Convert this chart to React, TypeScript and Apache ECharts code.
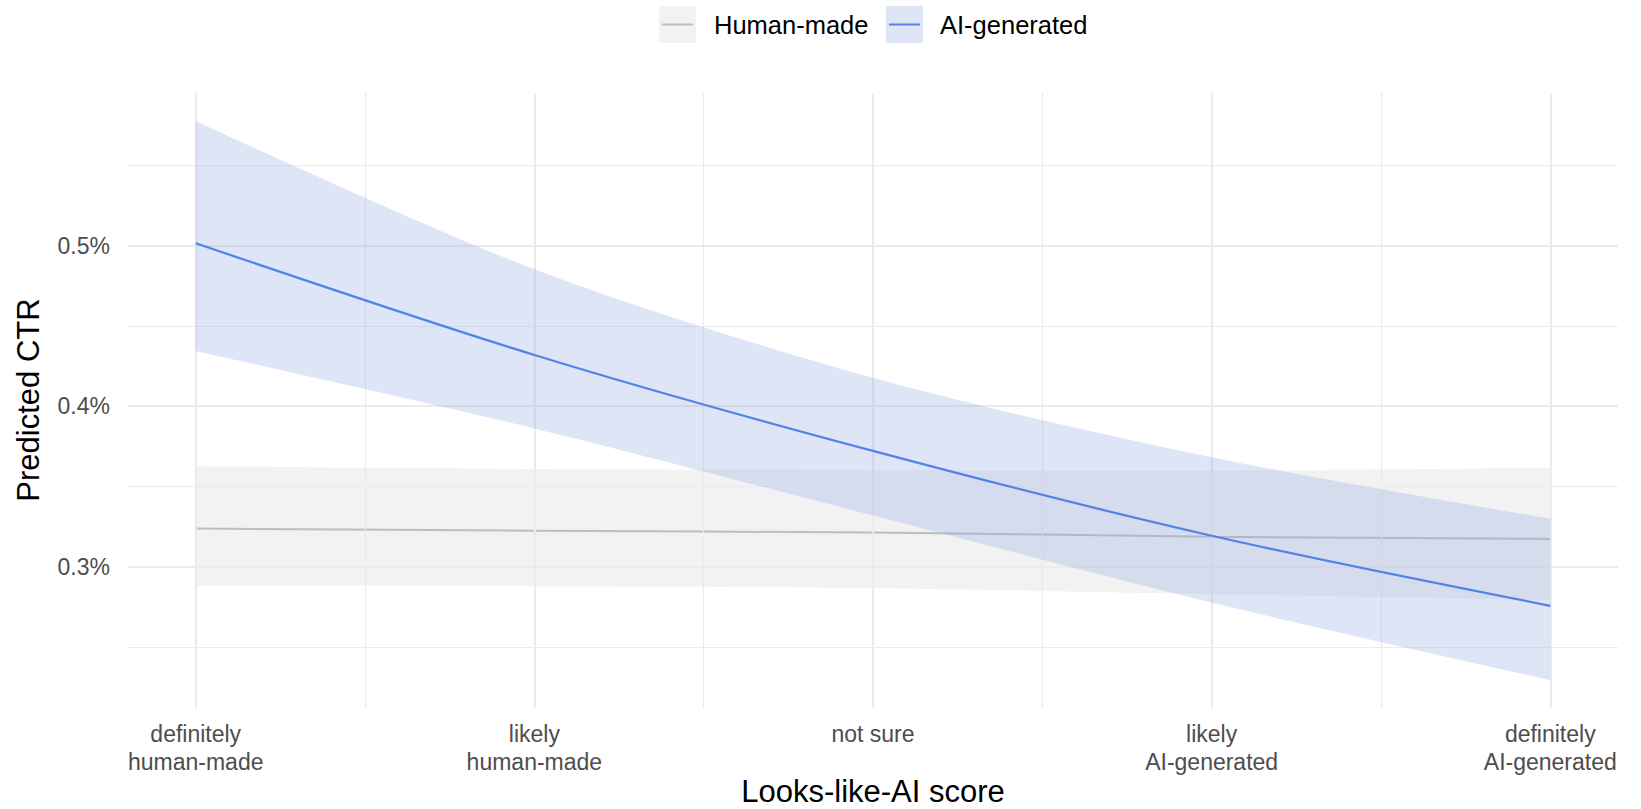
import React, { useEffect, useRef } from "react";
import * as echarts from "echarts";

// ---- data (values in percent) ----
const xLevels = [1, 2, 3, 4, 5];
const xTickLabels = [
  "definitely\nhuman-made",
  "likely\nhuman-made",
  "not sure",
  "likely\nAI-generated",
  "definitely\nAI-generated",
];
const yTickValues = [0.3, 0.4, 0.5];
const yMinorValues = [0.25, 0.35, 0.45, 0.55];
const xMinorValues = [1.5, 2.5, 3.5, 4.5];

const humanMean = [0.3239, 0.3225, 0.3214, 0.3188, 0.3174];
const humanLower = [0.2885, 0.288, 0.2867, 0.283, 0.2792];
const humanUpper = [0.3627, 0.361, 0.3602, 0.36, 0.3617];

const aiMean = [0.5014, 0.4319, 0.3722, 0.3194, 0.2758];
const aiLower = [0.4344, 0.3862, 0.332, 0.2778, 0.2296];
const aiUpper = [0.5775, 0.4852, 0.4177, 0.3682, 0.3299];

const legendNames = ["Human-made", "AI-generated"];

const FONT = "'Liberation Sans', Arial, sans-serif";
const GRID = "#EBEBEB";
const GRAY_LINE = "#BEBEBE";
const GRAY_FILL = "rgba(0,0,0,0.05)";
const BLUE_LINE = "#5282E8";
const BLUE_FILL = "rgba(145,170,229,0.31)";

export default function App() {
  const ref = useRef<HTMLDivElement>(null);

  useEffect(() => {
    document.body.style.margin = "0";
    if (!ref.current) return;
    const chart = echarts.init(ref.current, undefined, { renderer: "svg" });

    const allVals = [...humanLower, ...humanUpper, ...aiLower, ...aiUpper];
    const lo = Math.min(...allVals);
    const hi = Math.max(...allVals);
    const pad = (hi - lo) * 0.05;
    const yMin = lo - pad;
    const yMax = hi + pad;

    const pts = (arr: number[]) => arr.map((v, i) => [xLevels[i], v]);
    // value first so that stacking happens on the y dimension
    const stackPts = (arr: number[]) => arr.map((v, i) => [v, xLevels[i]]);
    const diff = (a: number[], b: number[]) => a.map((v, i) => [v - b[i], xLevels[i]]);

    const gridLines = [
      ...yTickValues.map((v) => ({ yAxis: v, lineStyle: { width: 2.2 } })),
      ...yMinorValues.map((v) => ({ yAxis: v, lineStyle: { width: 1.2 } })),
      ...xLevels.map((v) => ({ xAxis: v, lineStyle: { width: 2.2 } })),
      ...xMinorValues.map((v) => ({ xAxis: v, lineStyle: { width: 1.2 } })),
    ];

    const smooth = 0.3;
    const enc = { x: 1, y: 0 };

    chart.setOption({
      animation: false,
      grid: { left: 128, right: 23, top: 93, bottom: 101, containLabel: false },
      xAxis: {
        type: "value",
        min: 0.8,
        max: 5.2,
        axisLine: { show: false },
        axisTick: { show: false },
        splitLine: { show: false },
        axisLabel: {
          customValues: xLevels,
          formatter: (v: number) => xTickLabels[Math.round(v) - 1] ?? "",
          color: "#4D4D4D",
          fontSize: 23,
          lineHeight: 28,
          fontFamily: FONT,
          margin: 12,
        },
      },
      yAxis: {
        type: "value",
        min: yMin,
        max: yMax,
        axisLine: { show: false },
        axisTick: { show: false },
        splitLine: { show: false },
        axisLabel: {
          customValues: yTickValues,
          formatter: (v: number) => v.toFixed(1) + "%",
          color: "#4D4D4D",
          fontSize: 23,
          fontFamily: FONT,
          margin: 18,
        },
      },
      graphic: [
        {
          type: "rect",
          shape: { x: 659, y: 6, width: 37, height: 37 },
          style: { fill: "#F2F2F2" },
        },
        {
          type: "line",
          shape: { x1: 662, y1: 24.5, x2: 693, y2: 24.5 },
          style: { stroke: GRAY_LINE, lineWidth: 2 },
        },
        {
          type: "text",
          x: 714,
          y: 24.5,
          style: {
            text: legendNames[0],
            fontSize: 25.5,
            fontFamily: FONT,
            fill: "#000",
            verticalAlign: "middle",
            align: "left",
          },
        },
        {
          type: "rect",
          shape: { x: 886, y: 6, width: 37, height: 37 },
          style: { fill: "#DDE5F7" },
        },
        {
          type: "line",
          shape: { x1: 889, y1: 24.5, x2: 920, y2: 24.5 },
          style: { stroke: BLUE_LINE, lineWidth: 2 },
        },
        {
          type: "text",
          x: 940,
          y: 24.5,
          style: {
            text: legendNames[1],
            fontSize: 25.5,
            fontFamily: FONT,
            fill: "#000",
            verticalAlign: "middle",
            align: "left",
          },
        },
        {
          type: "text",
          x: 873,
          y: 791,
          style: {
            text: "Looks-like-AI score",
            fontSize: 31,
            fontFamily: FONT,
            fill: "#000",
            verticalAlign: "middle",
            align: "center",
          },
        },
        {
          type: "text",
          x: 28,
          y: 400,
          rotation: Math.PI / 2,
          style: {
            text: "Predicted CTR",
            fontSize: 31,
            fontFamily: FONT,
            fill: "#000",
            verticalAlign: "middle",
            align: "center",
          },
        },
      ],
      series: [
        {
          name: "human-lower",
          type: "line",
          stack: "human",
          data: stackPts(humanLower),
          encode: enc,
          smooth,
          symbol: "none",
          lineStyle: { opacity: 0 },
          silent: true,
          z: 1,
          markLine: {
            silent: true,
            symbol: ["none", "none"],
            label: { show: false },
            lineStyle: { color: GRID, type: "solid" },
            data: gridLines,
          },
        },
        {
          name: "human-band",
          type: "line",
          stack: "human",
          data: diff(humanUpper, humanLower),
          encode: enc,
          smooth,
          symbol: "none",
          lineStyle: { opacity: 0 },
          areaStyle: { color: GRAY_FILL, opacity: 1 },
          silent: true,
          z: 2,
        },
        {
          name: legendNames[0],
          type: "line",
          data: pts(humanMean),
          smooth,
          symbol: "none",
          lineStyle: { color: GRAY_LINE, width: 2 },
          silent: true,
          z: 3,
        },
        {
          name: "ai-lower",
          type: "line",
          stack: "ai",
          data: stackPts(aiLower),
          encode: enc,
          smooth,
          symbol: "none",
          lineStyle: { opacity: 0 },
          silent: true,
          z: 4,
        },
        {
          name: "ai-band",
          type: "line",
          stack: "ai",
          data: diff(aiUpper, aiLower),
          encode: enc,
          smooth,
          symbol: "none",
          lineStyle: { opacity: 0 },
          areaStyle: { color: BLUE_FILL, opacity: 1 },
          silent: true,
          z: 5,
        },
        {
          name: legendNames[1],
          type: "line",
          data: pts(aiMean),
          smooth,
          symbol: "none",
          lineStyle: { color: BLUE_LINE, width: 2.2 },
          silent: true,
          z: 6,
        },
      ],
    });

    return () => chart.dispose();
  }, []);

  return <div ref={ref} style={{ width: 1641, height: 809 }} />;
}
